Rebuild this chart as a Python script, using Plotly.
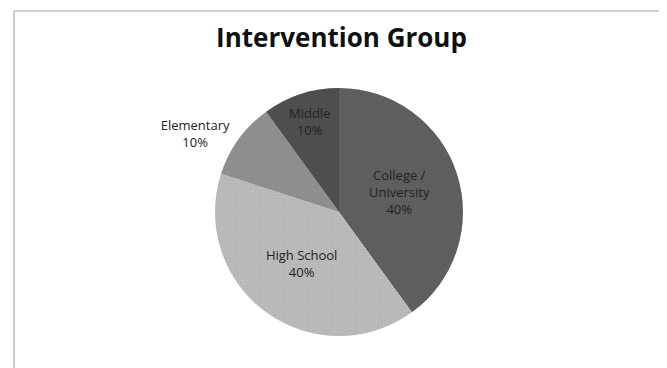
import plotly.graph_objects as go

categories = ["College /<br>University", "High School", "Elementary", "Middle"]
values = [40, 40, 10, 10]
colors = ["#5e5e5e", "#bcbcbc", "#8e8e8e", "#4e4e4e"]
text_positions = ["inside", "inside", "outside", "inside"]

W, H = 667, 368
cx, cy, r = 331, 204, 124

fig = go.Figure(go.Pie(
    labels=categories,
    values=values,
    sort=False,
    direction="clockwise",
    rotation=0,
    marker=dict(colors=colors, line=dict(width=0),
                pattern=dict(shape=["", ".", "", ""], fgcolor="#a8a8a8",
                             size=3, solidity=0.3, fillmode="overlay")),
    textinfo="label+percent",
    texttemplate="%{label}<br>%{percent:.0%}",
    textposition=text_positions,
    insidetextorientation="horizontal",
    textfont=dict(family="Open Sans, sans-serif", size=13, color="#222222"),
    outsidetextfont=dict(family="Open Sans, sans-serif", size=13, color="#222222"),
    showlegend=False,
    hoverinfo="skip",
    domain=dict(x=[(cx - r) / W, (cx + r) / W], y=[(H - cy - r) / H, (H - cy + r) / H]),
))

fig.update_layout(
    width=W, height=H,
    margin=dict(l=0, r=0, t=0, b=0),
    paper_bgcolor="white",
    title=dict(text="<b>Intervention Group</b>", x=0.5, xanchor="center",
               y=1 - 30 / H, yanchor="middle",
               font=dict(family="Open Sans, sans-serif", size=26, color="#111111")),
    uniformtext=dict(minsize=13, mode="show"),
    shapes=[dict(type="rect", xref="paper", yref="paper",
                 x0=6 / W, x1=663 / W, y0=1 / H, y1=1 - 3 / H,
                 line=dict(color="#bdbdbd", width=1.5))],
)

fig.write_html("out.html")
